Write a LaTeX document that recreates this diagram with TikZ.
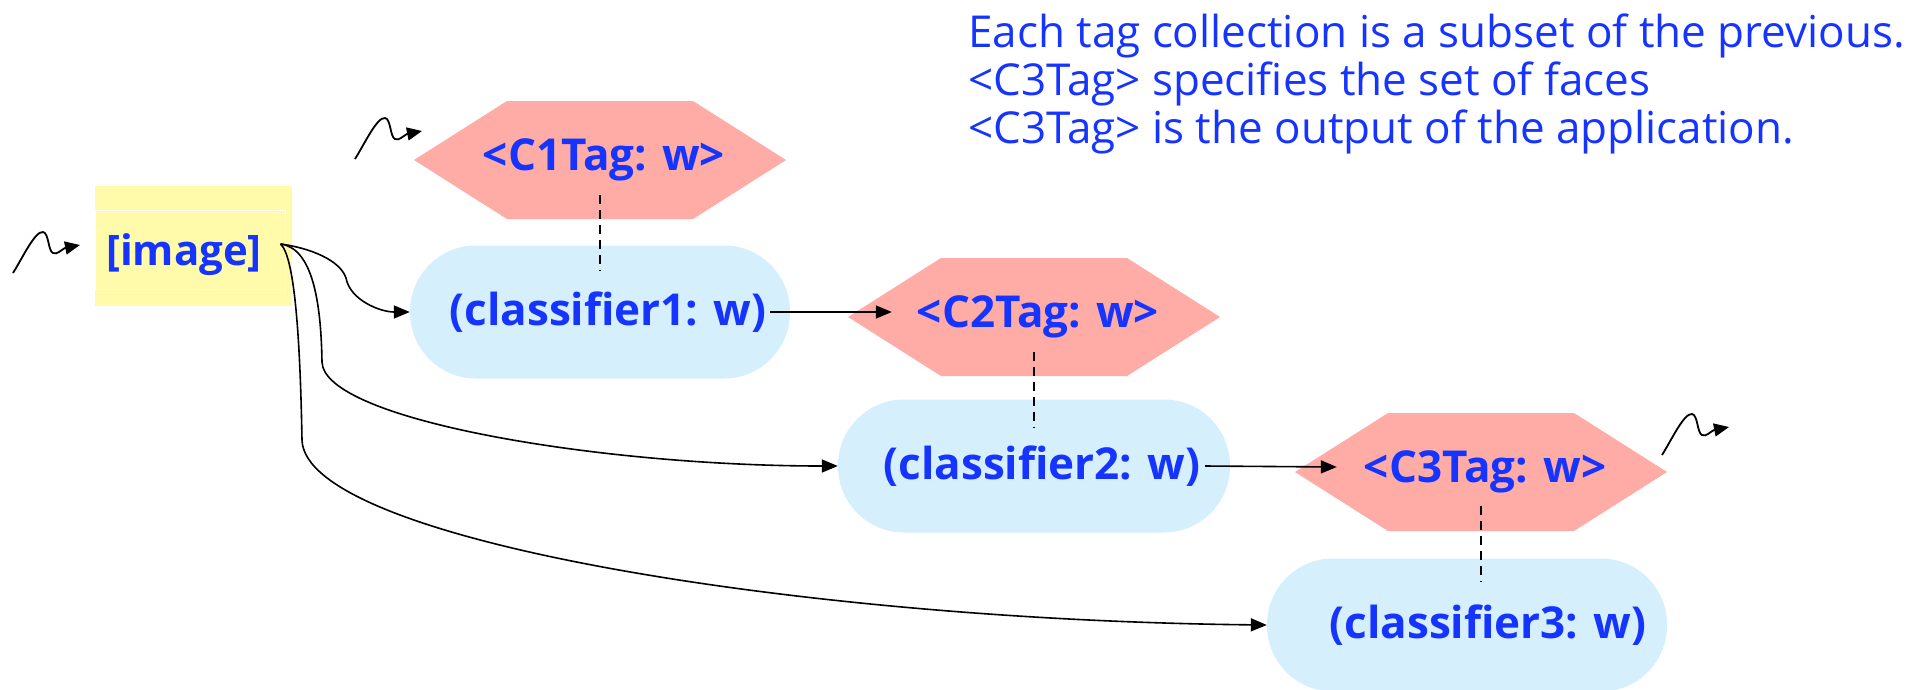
\documentclass[tikz,border=0pt]{standalone}
\usepackage{fontspec}
\setmainfont{Open Sans}
\usetikzlibrary{arrows.meta,calc}

\definecolor{inkblue}{RGB}{22,52,255}
\definecolor{tagpink}{RGB}{255,171,166}
\definecolor{pillblue}{RGB}{213,239,253}
\definecolor{imgyellow}{RGB}{255,251,171}

\begin{document}
\begin{tikzpicture}[x=1pt,y=-1pt,
  boldtext/.style={text=inkblue,font=\bfseries\fontsize{44}{48}\selectfont},
  pill/.style={rectangle,rounded corners=66pt,fill=pillblue,
    minimum width=#1,minimum height=133pt,inner sep=0pt,boldtext},
  tagbox/.style={rectangle,minimum width=372pt,minimum height=118pt,
    inner sep=0pt,boldtext,
    path picture={
      \fill[tagpink] (path picture bounding box.west)
        -- ([xshift=93pt]path picture bounding box.north west)
        -- ([xshift=-93pt]path picture bounding box.north east)
        -- (path picture bounding box.east)
        -- ([xshift=-93pt]path picture bounding box.south east)
        -- ([xshift=93pt]path picture bounding box.south west) -- cycle;}},
  note/.style={anchor=base west,inner sep=0pt,text=inkblue,
    font=\fontsize{44}{48}\selectfont},
  conn/.style={line width=1.6pt,-{Triangle[length=16pt,width=13pt]}},
  tagline/.style={line width=1.5pt,dash pattern=on 9pt off 6pt},
  squiggle/.pic={
    \draw[line width=1.8pt,-{Triangle[length=15pt,width=13pt]}]
      (0,0) .. controls (10,-16) and (22,-42) .. (30,-41)
      .. controls (36,-40) and (35,-22) .. (40,-20)
      .. controls (44,-18) and (48,-23) .. (52,-25) -- (67,-28);}
]
\useasboundingbox (0,0) rectangle (1910,689);

% explanatory notes
\node[note] (n1) at (968,47) {Each tag collection is a subset of the previous.};
\node[note] (n2) at (968,95) {<C3Tag> specifies the set of faces};
\node[note] (n3) at (968,143) {<C3Tag> is the output of the application.};

% image source
\node[rectangle,fill=imgyellow,minimum width=197pt,minimum height=120pt,
  inner sep=0pt] (imgbg) at (193.5,246) {};
\node[rectangle,draw=white,line width=1pt,minimum width=190pt,
  minimum height=79pt,inner sep=0pt] (img) at (190,249.5) {};
\node[boldtext,inner sep=0pt,font=\bfseries\fontsize{42}{46}\selectfont]
  (imglbl) at (184,255) {[image]};

% tag collections
\node[tagbox] (t1) at (600,160) {<C1Tag: w>\hspace*{-8pt}};
\node[tagbox] (t2) at (1034,317) {<C2Tag: w>\hspace*{-8pt}};
\node[tagbox] (t3) at (1481,472) {<C3Tag: w>\hspace*{-8pt}};

% classifier steps
\node[pill=380pt] (c1) at (600,312) {\hspace*{16pt}(classifier1: w)};
\node[pill=392pt] (c2) at (1034,466) {\hspace*{16pt}(classifier2: w)};
\node[pill=400pt] (c3) at (1467,625) {\hspace*{42pt}(classifier3: w)};

% environment inputs and output
\coordinate (env1) at (13,273);
\coordinate (env2) at (355,159);
\coordinate (env3) at (1662,455);
\pic at (env1) {squiggle};
\pic at (env2) {squiggle};
\pic at (env3) {squiggle};

% tag prescriptions
\draw[tagline] ($(t1.center)+(0,35)$) -- ($(t1.center |- c1.north)+(0,26)$);
\draw[tagline] ($(t2.center)+(0,35)$) -- ($(t2.center |- c2.north)+(0,28)$);
\draw[tagline] ($(t3.center)+(0,34)$) -- ($(t3.center |- c3.north)+(0,24)$);

% image to every classifier
\draw[conn] ([xshift=-5pt,yshift=5.5pt]img.east)
  .. controls (310,248) and (340,260) .. (346,278)
  .. controls (350,300) and (380,312) .. (c1.west);
\draw[conn] ([xshift=-5pt,yshift=5.5pt]img.east)
  .. controls (312,248) and (321,300) .. (322,362)
  .. controls (324,420) and (600,466) .. (c2.west);
\draw[conn] ([xshift=-5pt,yshift=5.5pt]img.east)
  .. controls (294,256) and (300,330) .. (302,440)
  .. controls (305,540) and (800,620) .. (c3.west);

% classifiers produce tags
\draw[conn] ([xshift=-20pt]c1.east) -- ([xshift=44pt,yshift=5pt]t2.west);
\draw[conn] ([xshift=-25pt]c2.east) -- ([xshift=42pt,yshift=5pt]t3.west);
\end{tikzpicture}
\end{document}
